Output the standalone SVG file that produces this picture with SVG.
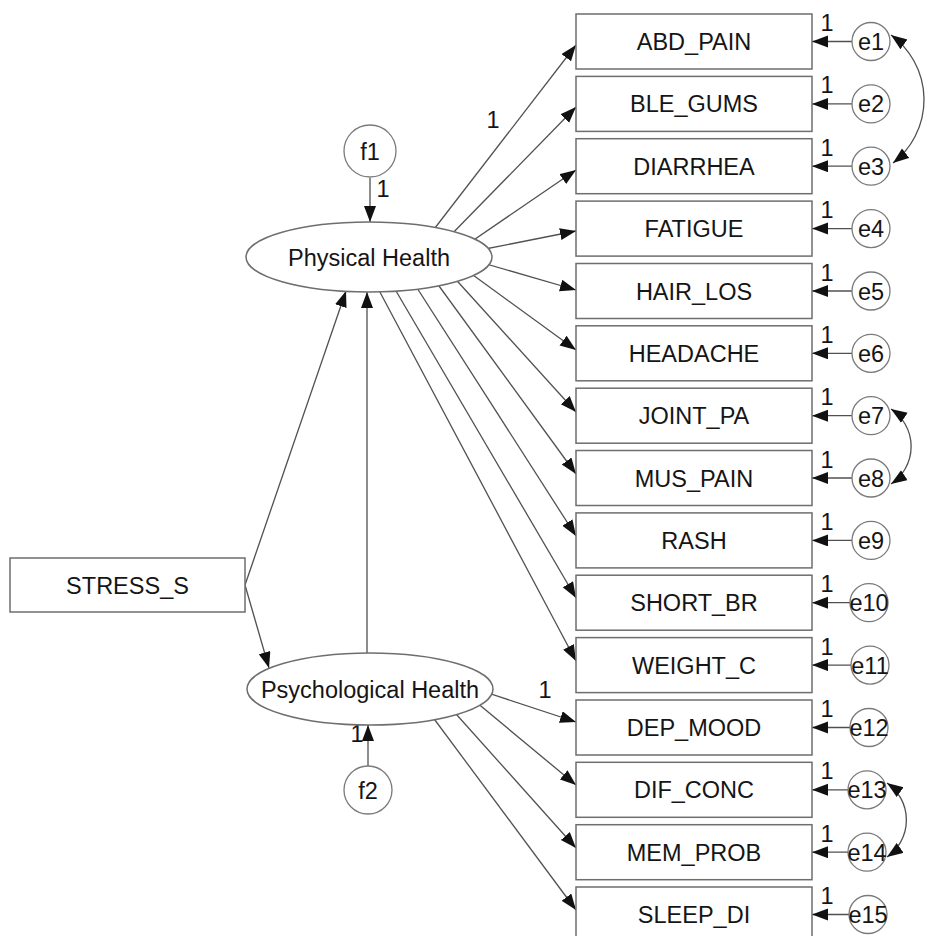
<svg xmlns="http://www.w3.org/2000/svg" width="927" height="936" viewBox="0 0 927 936">
  <style>
    .box { fill: #ffffff; stroke: #6e6e6e; stroke-width: 1.5; }
    .lat { fill: #ffffff; stroke: #6e6e6e; stroke-width: 1.5; }
    .err { fill: #ffffff; stroke: #7a7a7a; stroke-width: 1.3; }
    .path { fill: none; stroke: #505050; stroke-width: 1.3; marker-end: url(#arrow); }
    .cov { fill: none; stroke: #505050; stroke-width: 1.3; marker-start: url(#arrow); marker-end: url(#arrow); }
    text { font-family: "Liberation Sans", Arial, sans-serif; font-size: 23.5px; fill: #151515; text-anchor: middle; }
  </style>
  <defs>
    <marker id="arrow" markerUnits="userSpaceOnUse" markerWidth="17" markerHeight="13" refX="16" refY="6" orient="auto-start-reverse">
      <path d="M0,0 L16,6 L0,12 z" fill="#111111"/>
    </marker>
  </defs>
  <rect width="927" height="936" fill="#ffffff"/>

  <!-- connectors -->
  <g id="connectors">
    <!-- Physical Health to indicators -->
    <line class="path" x1="428" y1="237" x2="576" y2="45"/>
    <line class="path" x1="445" y1="241" x2="576" y2="107"/>
    <line class="path" x1="462" y1="248" x2="576" y2="170"/>
    <line class="path" x1="475" y1="251" x2="576" y2="231"/>
    <line class="path" x1="476" y1="261" x2="576" y2="290"/>
    <line class="path" x1="462" y1="267" x2="576" y2="350"/>
    <line class="path" x1="449" y1="272" x2="576" y2="412"/>
    <line class="path" x1="431" y1="275" x2="576" y2="474"/>
    <line class="path" x1="410" y1="277" x2="576" y2="536"/>
    <line class="path" x1="389" y1="279" x2="576" y2="598"/>
    <line class="path" x1="373" y1="279" x2="576" y2="661"/>
    <!-- Psychological Health to indicators -->
    <line class="path" x1="479" y1="690" x2="576" y2="722"/>
    <line class="path" x1="470" y1="697" x2="576" y2="785"/>
    <line class="path" x1="448" y1="705" x2="576" y2="848"/>
    <line class="path" x1="426" y1="708" x2="576" y2="910"/>
    <!-- structural paths -->
    <line class="path" x1="370" y1="178" x2="370" y2="222"/>
    <line class="path" x1="368" y1="766" x2="368" y2="725"/>
    <line class="path" x1="245" y1="585" x2="346" y2="291"/>
    <line class="path" x1="245" y1="585" x2="269" y2="668"/>
    <line class="path" x1="367" y1="653" x2="367" y2="292"/>
    <!-- error terms to indicators -->
    <line class="path" x1="852" y1="41.5" x2="812" y2="41.5"/>
    <line class="path" x1="852" y1="103.9" x2="812" y2="103.9"/>
    <line class="path" x1="852" y1="166.2" x2="812" y2="166.2"/>
    <line class="path" x1="852" y1="228.6" x2="812" y2="228.6"/>
    <line class="path" x1="852" y1="291" x2="812" y2="291"/>
    <line class="path" x1="852" y1="353.3" x2="812" y2="353.3"/>
    <line class="path" x1="852" y1="415.7" x2="812" y2="415.7"/>
    <line class="path" x1="852" y1="478" x2="812" y2="478"/>
    <line class="path" x1="852" y1="540.4" x2="812" y2="540.4"/>
    <line class="path" x1="852" y1="602.7" x2="812" y2="602.7"/>
    <line class="path" x1="852" y1="665.1" x2="812" y2="665.1"/>
    <line class="path" x1="852" y1="727.5" x2="812" y2="727.5"/>
    <line class="path" x1="852" y1="789.8" x2="812" y2="789.8"/>
    <line class="path" x1="852" y1="852.2" x2="812" y2="852.2"/>
    <line class="path" x1="852" y1="914.5" x2="812" y2="914.5"/>
    <!-- error covariances -->
    <path class="cov" d="M891,35 A80,80 0 0 1 893,163"/>
    <path class="cov" d="M891,409 A45,45 0 0 1 891,484"/>
    <path class="cov" d="M887,783 A45,45 0 0 1 887,857"/>
    <!-- fixed loadings -->
    <text x="493" y="128">1</text>
    <text x="545" y="698">1</text>
    <text x="383" y="197">1</text>
    <text x="357" y="742">1</text>
    <text x="827" y="31">1</text>
    <text x="827" y="93.4">1</text>
    <text x="827" y="155.7">1</text>
    <text x="827" y="218.1">1</text>
    <text x="827" y="280.5">1</text>
    <text x="827" y="342.8">1</text>
    <text x="827" y="405.2">1</text>
    <text x="827" y="467.5">1</text>
    <text x="827" y="529.9">1</text>
    <text x="827" y="592.2">1</text>
    <text x="827" y="654.6">1</text>
    <text x="827" y="717">1</text>
    <text x="827" y="779.3">1</text>
    <text x="827" y="841.7">1</text>
    <text x="827" y="904">1</text>
  </g>

  <!-- exogenous observed variable -->
  <g id="stress_s">
    <rect class="box" x="10" y="558" width="235" height="54"/>
    <text x="127.5" y="593.5">STRESS_S</text>
  </g>

  <!-- latent variables -->
  <g id="physical_health">
    <ellipse class="lat" cx="369" cy="257" rx="123" ry="35"/>
    <text x="369" y="265.5">Physical Health</text>
  </g>
  <g id="psychological_health">
    <ellipse class="lat" cx="370" cy="689" rx="123" ry="36"/>
    <text x="370" y="697.5">Psychological Health</text>
  </g>
  <g id="f1">
    <circle class="err" cx="370" cy="151" r="26"/>
    <text x="370" y="159.5">f1</text>
  </g>
  <g id="f2">
    <circle class="err" cx="368" cy="790" r="24"/>
    <text x="368" y="798.5">f2</text>
  </g>

  <!-- indicators -->
  <g id="abd_pain"><rect class="box" x="576" y="14" width="236" height="55"/><text x="694" y="50">ABD_PAIN</text></g>
  <g id="ble_gums"><rect class="box" x="576" y="76.4" width="236" height="55"/><text x="694" y="112.4">BLE_GUMS</text></g>
  <g id="diarrhea"><rect class="box" x="576" y="138.7" width="236" height="55"/><text x="694" y="174.7">DIARRHEA</text></g>
  <g id="fatigue"><rect class="box" x="576" y="201.1" width="236" height="55"/><text x="694" y="237.1">FATIGUE</text></g>
  <g id="hair_los"><rect class="box" x="576" y="263.5" width="236" height="55"/><text x="694" y="299.5">HAIR_LOS</text></g>
  <g id="headache"><rect class="box" x="576" y="325.8" width="236" height="55"/><text x="694" y="361.8">HEADACHE</text></g>
  <g id="joint_pa"><rect class="box" x="576" y="388.2" width="236" height="55"/><text x="694" y="424.2">JOINT_PA</text></g>
  <g id="mus_pain"><rect class="box" x="576" y="450.5" width="236" height="55"/><text x="694" y="486.5">MUS_PAIN</text></g>
  <g id="rash"><rect class="box" x="576" y="512.9" width="236" height="55"/><text x="694" y="548.9">RASH</text></g>
  <g id="short_br"><rect class="box" x="576" y="575.2" width="236" height="55"/><text x="694" y="611.2">SHORT_BR</text></g>
  <g id="weight_c"><rect class="box" x="576" y="637.6" width="236" height="55"/><text x="694" y="673.6">WEIGHT_C</text></g>
  <g id="dep_mood"><rect class="box" x="576" y="700" width="236" height="55"/><text x="694" y="736">DEP_MOOD</text></g>
  <g id="dif_conc"><rect class="box" x="576" y="762.3" width="236" height="55"/><text x="694" y="798.3">DIF_CONC</text></g>
  <g id="mem_prob"><rect class="box" x="576" y="824.7" width="236" height="55"/><text x="694" y="860.7">MEM_PROB</text></g>
  <g id="sleep_di"><rect class="box" x="576" y="887" width="236" height="55"/><text x="694" y="923">SLEEP_DI</text></g>

  <!-- error terms -->
  <g id="e1"><circle class="err" cx="871" cy="41.5" r="19"/><text x="871" y="50">e1</text></g>
  <g id="e2"><circle class="err" cx="871" cy="103.9" r="19"/><text x="871" y="112.4">e2</text></g>
  <g id="e3"><circle class="err" cx="871" cy="166.2" r="19"/><text x="871" y="174.7">e3</text></g>
  <g id="e4"><circle class="err" cx="871" cy="228.6" r="19"/><text x="871" y="237.1">e4</text></g>
  <g id="e5"><circle class="err" cx="871" cy="291" r="19"/><text x="871" y="299.5">e5</text></g>
  <g id="e6"><circle class="err" cx="871" cy="353.3" r="19"/><text x="871" y="361.8">e6</text></g>
  <g id="e7"><circle class="err" cx="871" cy="415.7" r="19"/><text x="871" y="424.2">e7</text></g>
  <g id="e8"><circle class="err" cx="871" cy="478" r="19"/><text x="871" y="486.5">e8</text></g>
  <g id="e9"><circle class="err" cx="871" cy="540.4" r="19"/><text x="871" y="548.9">e9</text></g>
  <g id="e10"><circle class="err" cx="869" cy="602.7" r="19"/><text x="869" y="611.2">e10</text></g>
  <g id="e11"><circle class="err" cx="870" cy="665.1" r="19"/><text x="870" y="673.6">e11</text></g>
  <g id="e12"><circle class="err" cx="869" cy="727.5" r="19"/><text x="869" y="736">e12</text></g>
  <g id="e13"><circle class="err" cx="867" cy="789.8" r="19"/><text x="867" y="798.3">e13</text></g>
  <g id="e14"><circle class="err" cx="867" cy="852.2" r="19"/><text x="867" y="860.7">e14</text></g>
  <g id="e15"><circle class="err" cx="868" cy="914.5" r="19"/><text x="868" y="923">e15</text></g>
</svg>
